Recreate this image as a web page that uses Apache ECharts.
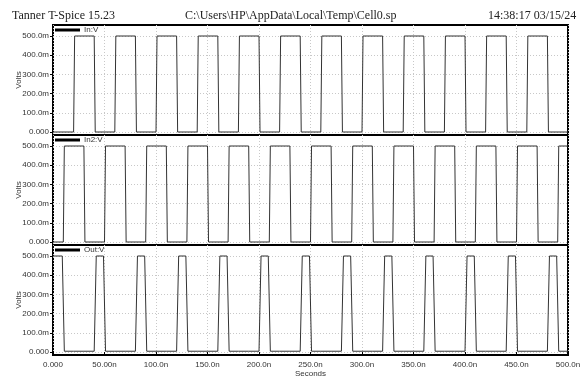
<!DOCTYPE html>
<html><head><meta charset="utf-8">
<script src="https://cdn.jsdelivr.net/npm/echarts@6/dist/echarts.min.js"></script>
<style>html,body{margin:0;padding:0;background:#fff}#c{width:580px;height:376px}</style>
</head><body><div id="c"></div>
<script>
// ---- data (times in ns, values in V) ----
const titleLeft = "Tanner T-Spice 15.23";
const titleCenter = "C:\\Users\\HP\\AppData\\Local\\Temp\\Cell0.sp";
const titleRight = "14:38:17 03/15/24";
const seriesNames = ["In:V", "In2:V", "Out:V"];
const xTicks = [0, 50, 100, 150, 200, 250, 300, 350, 400, 450, 500];
const xTickLabels = ["0.000", "50.00n", "100.0n", "150.0n", "200.0n", "250.0n", "300.0n", "350.0n", "400.0n", "450.0n", "500.0n"];
const yTicks = [0, 0.1, 0.2, 0.3, 0.4, 0.5];
const yTickLabels = ["0.000", "100.0m", "200.0m", "300.0m", "400.0m", "500.0m"];

// In: rising / falling edges
const inRise = [20, 60, 100, 140, 180, 220, 260, 300, 340, 380, 420, 460];
const inFall = [40, 80, 120, 160, 200, 240, 280, 320, 360, 400, 440, 480];
// In2
const in2Rise = [10, 50, 90, 130, 170, 210, 250, 290, 330, 370, 410, 450, 490];
const in2Fall = [30, 70, 110, 150, 190, 230, 270, 310, 350, 390, 430, 470];
// Out (starts high)
const outFall = [9, 49, 89, 129, 169, 209, 249, 289, 329, 369, 409, 449, 489];
const outRise = [40, 80, 120, 160, 200, 240, 280, 320, 360, 400, 440, 480];
// small glitches on Out's low level
const outGlitchT = [20.5, 30.5, 60.5, 70.5, 100.5, 110.5, 140.5, 150.5, 180.5, 190.5, 220.5, 230.5, 260.5, 270.5, 300.5, 310.5, 340.5, 350.5, 380.5, 390.5, 420.5, 430.5, 460.5, 470.5];
const outGlitchV = [0.010, -0.006, 0.010, -0.006, 0.010, -0.006, 0.010, -0.006, 0.010, -0.006, 0.010, -0.006, 0.010, -0.006, 0.010, -0.006, 0.010, -0.006, 0.010, -0.006, 0.010, -0.006, 0.010, -0.006];
const vHigh = 0.5, vLow = 0.0, outLow = 0.004;

function buildWave(rises, falls, startHigh, edge, hi, lo, glT, glV) {
  const ev = [];
  rises.forEach(t => ev.push([t, 'r']));
  falls.forEach(t => ev.push([t, 'f']));
  (glT || []).forEach((t, i) => ev.push([t, 'g', glV[i]]));
  ev.sort((a, b) => a[0] - b[0]);
  const pts = [[0, startHigh ? hi : lo]];
  let cur = startHigh ? hi : lo;
  ev.forEach(e => {
    const t = e[0];
    if (e[1] === 'r') { pts.push([t, lo]); pts.push([Math.min(t + edge, 500), hi]); cur = hi; }
    else if (e[1] === 'f') { pts.push([t, hi]); pts.push([Math.min(t + edge, 500), lo]); cur = lo; }
    else { pts.push([t - 0.5, cur]); pts.push([t, e[2]]); pts.push([t + 0.8, cur]); }
  });
  pts.push([500, cur]);
  return pts;
}
const inData = buildWave(inRise, inFall, false, 1, vHigh, vLow);
const in2Data = buildWave(in2Rise, in2Fall, false, 1, vHigh, vLow);
const outData = buildWave(outRise, outFall, true, 2, vHigh, outLow, outGlitchT, outGlitchV);
const allData = [inData, in2Data, outData];

// ---- chart ----
const chart = echarts.init(document.getElementById('c'), null, {renderer: 'canvas'});
const sans = "'Liberation Sans', Arial, sans-serif";
const serif = "'Liberation Serif', 'Times New Roman', serif";
const tops = [25, 135, 245];
const grids = [], xAxes = [], yAxes = [], series = [], legends = [];
for (let i = 0; i < 3; i++) {
  grids.push({left: 53, right: 12, top: tops[i], height: 110, show: true, borderColor: '#000', borderWidth: 2,
    backgroundColor: '#fff', containLabel: false, outerBoundsMode: 'none'});
  const last = i === 2;
  xAxes.push({
    type: 'value', gridIndex: i, min: 0, max: 500, interval: 50,
    axisLine: {show: false},
    axisTick: {show: last, length: 3, inside: false, lineStyle: {color: '#000'}},
    axisLabel: {show: last, fontSize: 8, fontFamily: sans, color: '#333', margin: 6,
      formatter: v => xTickLabels[xTicks.indexOf(v)]},
    splitLine: {show: true, lineStyle: {color: '#c8c8c8', type: [1, 2], width: 1}},
    name: last ? 'Seconds' : '', nameLocation: 'middle', nameGap: 15, nameMoveOverlap: false,
    nameTextStyle: {fontSize: 8, fontFamily: sans, color: '#333'}
  });
  yAxes.push({
    type: 'value', gridIndex: i, min: -0.015625, max: 0.5572917,
    axisLine: {show: false},
    axisTick: {show: true, length: 3, customValues: yTicks, lineStyle: {color: '#000'}},
    axisLabel: {fontSize: 8, fontFamily: sans, color: '#333', margin: 4, customValues: yTicks,
      formatter: v => { const k = yTicks.findIndex(t => Math.abs(t - v) < 1e-9); return k >= 0 ? yTickLabels[k] : ''; }},
    splitLine: {show: true, lineStyle: {color: '#c8c8c8', type: [1, 2], width: 1}},
    name: 'Volts', nameLocation: 'middle', nameGap: 30, nameRotate: 90, nameMoveOverlap: false,
    nameTextStyle: {fontSize: 8, fontFamily: sans, color: '#333'}
  });
  series.push({
    name: seriesNames[i], type: 'line', xAxisIndex: i, yAxisIndex: i,
    data: allData[i], showSymbol: false, symbol: 'none', clip: true,
    lineStyle: {color: '#333', width: 1}, itemStyle: {color: '#000'}, animation: false
  });
  legends.push({
    data: [seriesNames[i]], left: 55, top: tops[i] + 1, icon: 'rect', itemWidth: 25, itemHeight: 3,
    itemGap: 4, textStyle: {fontSize: 8, fontFamily: sans, color: '#333', padding: [0, 0, 0, -1]},
    padding: 0, selectedMode: false
  });
}
chart.setOption({
  backgroundColor: '#fff',
  animation: false,
  title: [
    {text: titleLeft, left: 7, top: 5, textStyle: {fontFamily: serif, fontSize: 12, fontWeight: 'normal', color: '#222'}},
    {text: titleCenter, left: 180, top: 5, textStyle: {fontFamily: serif, fontSize: 12, fontWeight: 'normal', color: '#222'}},
    {text: titleRight, left: 483, top: 5, textStyle: {fontFamily: serif, fontSize: 12, fontWeight: 'normal', color: '#222'}}
  ],
  legend: legends,
  grid: grids, xAxis: xAxes, yAxis: yAxes, series: series
});
</script></body></html>
